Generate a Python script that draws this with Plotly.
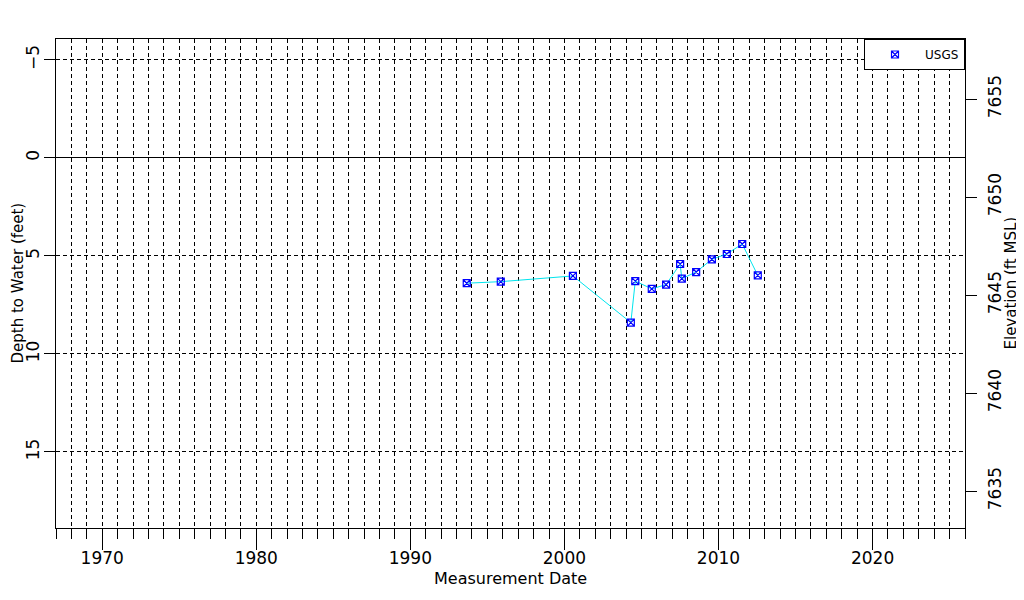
import plotly.graph_objects as go

dates = [1993.66, 1995.87, 2000.55, 2004.31, 2004.60, 2005.67, 2006.60,
         2007.51, 2007.62, 2008.55, 2009.57, 2010.54, 2011.54, 2012.55]
depth = [6.39, 6.31, 6.02, 8.40, 6.28, 6.68, 6.46,
         5.41, 6.16, 5.82, 5.17, 4.90, 4.39, 5.99]
land_surface = 7652.0

x_range = [1967.0, 2026.0]
depth_range = [18.88, -6.07]
depth_ticks = [-5, 0, 5, 10, 15]
elev_ticks = [7635, 7640, 7645, 7650, 7655]
decade_ticks = [1970, 1980, 1990, 2000, 2010, 2020]

FONT = "DejaVu Sans"
BLUE = "#0000ff"

fig = go.Figure()
fig.add_trace(go.Scatter(
    x=dates, y=depth, mode="lines+markers", name="USGS", showlegend=False,
    line=dict(color="#00e5ee", width=1),
    marker=dict(symbol="square-x-open", color=BLUE, size=7,
                line=dict(width=1.2, color=BLUE)),
))
# legend entry (marker only)
fig.add_trace(go.Scatter(
    x=[None], y=[None], mode="markers", name="USGS",
    marker=dict(symbol="square-x-open", color=BLUE, size=7,
                line=dict(width=1.2, color=BLUE)),
))
# invisible trace to activate the elevation axis
fig.add_trace(go.Scatter(
    x=[dates[0]], y=[land_surface - depth[0]], yaxis="y2",
    mode="markers", marker=dict(opacity=0), showlegend=False, hoverinfo="skip",
))

tickfont = dict(family=FONT, size=17, color="black")

fig.update_layout(
    width=1024, height=600,
    margin=dict(l=48, r=67, t=31, b=80),
    paper_bgcolor="white", plot_bgcolor="white",
    font=dict(family=FONT, size=16, color="black"),
    showlegend=True,
    legend=dict(x=1, y=1, xanchor="right", yanchor="top",
                bordercolor="black", borderwidth=1, bgcolor="white",
                font=dict(size=12), itemwidth=50),
    xaxis=dict(
        range=x_range, tickmode="array", tickvals=decade_ticks,
        ticktext=[str(v) for v in decade_ticks], tickfont=tickfont,
        ticks="outside", ticklen=21, tickcolor="black", tickwidth=1,
        ticklabelstandoff=-6,
        showline=True, linecolor="black", linewidth=1, mirror=True,
        showgrid=True, gridcolor="black", gridwidth=1, griddash="4px,3px",
        zeroline=False, automargin=False,
        minor=dict(dtick=1, tick0=1967, ticks="outside", ticklen=10,
                   tickcolor="black", showgrid=True, gridcolor="black",
                   gridwidth=1, griddash="4px,3px"),
    ),
    yaxis=dict(
        range=depth_range, tickmode="array", tickvals=depth_ticks,
        ticktext=["\u22125", "0", "5", "10", "15"], tickfont=tickfont,
        tickangle=-90, ticks="outside", ticklen=11, tickcolor="black",
        ticklabelstandoff=-2,
        showline=True, linecolor="black", linewidth=1, mirror=True,
        showgrid=True, gridcolor="black", gridwidth=1, griddash="4px,3px",
        zeroline=True, zerolinecolor="black", zerolinewidth=1,
        automargin=False,
    ),
    yaxis2=dict(
        overlaying="y", side="right",
        range=[land_surface - depth_range[0], land_surface - depth_range[1]],
        tickmode="array", tickvals=elev_ticks,
        ticktext=[str(v) for v in elev_ticks], tickfont=tickfont,
        tickangle=-90, ticks="outside", ticklen=11, tickcolor="black",
        ticklabelstandoff=4,
        showgrid=False, zeroline=False, showline=False, automargin=False,
    ),
    annotations=[
        dict(text="Measurement Date", xref="paper", yref="paper",
             x=0.5, y=0, yshift=-50, xanchor="center", yanchor="middle",
             showarrow=False, font=dict(size=16)),
        dict(text="Depth to Water (feet)", xref="paper", yref="paper",
             x=0, xshift=-39, y=0.5, xanchor="center", yanchor="middle",
             textangle=-90, showarrow=False, font=dict(size=15)),
        dict(text="Elevation (ft MSL)", xref="paper", yref="paper",
             x=1, xshift=45, y=0.5, xanchor="center", yanchor="middle",
             textangle=-90, showarrow=False, font=dict(size=15)),
    ],
)

fig.write_html("out.html")
